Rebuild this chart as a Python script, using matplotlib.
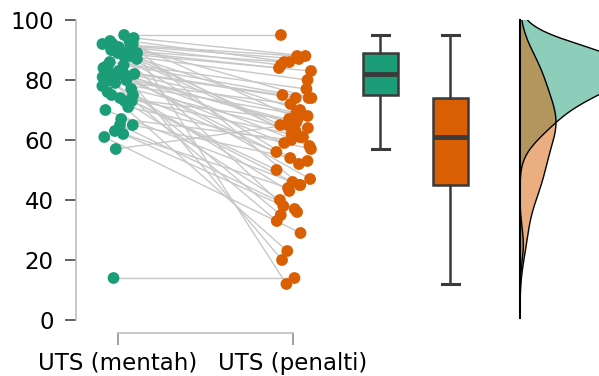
import numpy as np
import matplotlib
matplotlib.use("Agg")
import matplotlib.pyplot as plt

labels = ["UTS (mentah)", "UTS (penalti)"]
colors = ["#1b9e77", "#d95f02"]

# paired scores, same student in the same slot
mentah = [95, 94, 93, 93, 92, 92, 92, 92, 91, 91, 90, 90, 90, 89, 89, 89, 89, 88, 88,
          87, 86, 85, 85, 84, 84, 83, 83, 82, 82, 82, 82, 82, 81, 80, 80, 80, 79, 78,
          77, 76, 75, 75, 74, 73, 73, 71, 70, 67, 65, 65, 63, 62, 61, 57, 14]
penalti = [95, 88, 86, 74, 88, 67, 87, 45, 85, 62, 86, 54, 84, 83, 38, 70, 12, 80, 61,
           65, 77, 47, 74, 69, 35, 75, 58, 74, 20, 64, 52, 66, 43, 72, 59, 33, 68, 46,
           63, 23, 61, 56, 67, 50, 40, 57, 45, 60, 37, 53, 44, 36, 29, 65, 14]
yticks = [0, 20, 40, 60, 80, 100]


def kde(vals, grid, bw):
    v = np.asarray(vals, float)[:, None]
    z = (grid[None, :] - v) / bw
    return np.exp(-0.5 * z ** 2).sum(0) / (len(vals) * bw * np.sqrt(2 * np.pi))


fig = plt.figure(figsize=(5.99, 3.76), dpi=100)
ax = fig.add_axes([76 / 599, 43 / 376, 523 / 599, 328 / 376])
ax.set_xlim(-0.24, 2.75)
ax.set_ylim(-4.33, 105)

# jittered strip + pairing lines
rng = np.random.default_rng(7)
jx0 = rng.uniform(-0.09, 0.11, len(mentah))
jx1 = 1 + rng.uniform(-0.1, 0.11, len(penalti))
for a, b, ya, yb in zip(jx0, jx1, mentah, penalti):
    ax.plot([a, b], [ya, yb], color="#c8c8c8", lw=1, zorder=1)
ax.scatter(jx0, mentah, s=72, color=colors[0], edgecolor="none", zorder=3)
ax.scatter(jx1, penalti, s=72, color=colors[1], edgecolor="none", zorder=3)

# boxplots
bp = ax.boxplot([mentah, penalti], positions=[1.5, 1.9], widths=0.2, patch_artist=True,
                showfliers=False, capwidths=0.1,
                boxprops=dict(edgecolor="#3a3a3a", linewidth=1.8),
                medianprops=dict(color="#3a3a3a", linewidth=3.5),
                whiskerprops=dict(color="#3a3a3a", linewidth=1.8),
                capprops=dict(color="#3a3a3a", linewidth=2.2))
for patch, c in zip(bp["boxes"], colors):
    patch.set_facecolor(c)

ax.set_xticks([0, 1])
ax.set_xticklabels(labels)
ax.set_yticks(yticks)
ax.tick_params(axis="y", length=8, width=1.3, color="#555555", pad=8, labelsize=16.5)
ax.tick_params(axis="x", length=8.5, width=1.3, color="#999999", pad=5, labelsize=16.5)
for s in ["top", "right"]:
    ax.spines[s].set_visible(False)
ax.spines["left"].set_bounds(0, 100)
ax.spines["bottom"].set_bounds(0, 1)
for s in ["left", "bottom"]:
    ax.spines[s].set_color("#bdbdbd")
    ax.spines[s].set_linewidth(1.2)

# density panel on its own axes (half violins)
kx = fig.add_axes([520 / 599, 58 / 376, 130 / 599, 298 / 376])
grid = np.linspace(-40, 130, 400)
dg = kde(mentah, grid, 7.0)
do = kde(penalti, grid, 9.0)
for d, peak, c in [(dg, 110, colors[0]), (do, 36, colors[1])]:
    w = d / d.max() * peak
    kx.fill_betweenx(grid, 0, w, color=c, alpha=0.5, lw=0)
    kx.plot(w, grid, color="black", lw=1)
kx.set_ylim(-16, 106)
kx.set_xlim(0, 130)
kx.patch.set_alpha(0)
kx.set_xticks([])
kx.set_yticks([])
for s in ["top", "right", "bottom"]:
    kx.spines[s].set_visible(False)
kx.spines["left"].set_color("black")
kx.spines["left"].set_linewidth(1.5)

fig.savefig("out.png", dpi=100)
